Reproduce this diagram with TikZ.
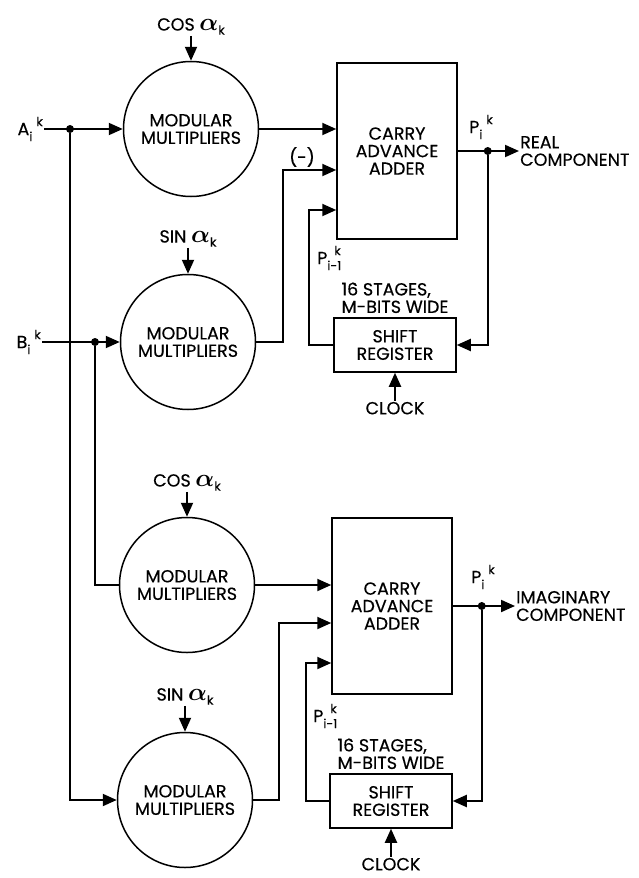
\documentclass[tikz,border=0pt]{standalone}
\usepackage{fontspec}
\setmainfont{Poppins}[FakeBold=0.4]
\usetikzlibrary{arrows.meta,positioning}
\newcommand{\blocksize}{\fontsize{17.5}{17.5}\selectfont}
\newcommand{\idxsize}{\fontsize{12.5}{12.5}\selectfont}
\newcommand{\sig}[3]{#1\rlap{\raisebox{-6pt}{\idxsize #2}}\hspace{7pt}\raisebox{9pt}{\idxsize #3}}
\newcommand{\alphak}{{\fontsize{24}{24}\selectfont\boldmath$\alpha$}\raisebox{-4pt}{\idxsize k}}
\tikzset{
  mult/.style={circle,draw,line width=1.5pt,minimum size=135pt,inner sep=0pt,align=center,font=\blocksize},
  adder/.style={rectangle,draw,line width=1.5pt,minimum width=120pt,minimum height=176pt,align=center,font=\blocksize},
  shiftreg/.style={rectangle,draw,line width=1.5pt,minimum width=122pt,minimum height=54pt,align=center,font=\blocksize},
  wire/.style={line width=2pt},
  arrow/.style={wire,-{Triangle[length=14pt,width=12pt]}},
  jdot/.style={circle,fill,inner sep=0pt,minimum size=8pt},
  siglabel/.style={font=\blocksize,inner sep=1pt,align=center}
}
\begin{document}
\begin{tikzpicture}[x=1pt,y=-1pt]
    \useasboundingbox (0,0) rectangle (638,878);
    % real component
    \node[mult] (m1) at (191,129) {MODULAR\\MULTIPLIERS};
    \node[mult] (m2) at (188,342) {MODULAR\\MULTIPLIERS};
    \node[adder] (add1) at (397,151) {CARRY\\ADVANCE\\ADDER};
    \node[shiftreg] (sr1) at (395,345) {SHIFT\\REGISTER};
    \node[siglabel,above=25pt of m1] (cos1) {COS \alphak};
    \node[siglabel,above=26pt of m2] (sin1) {SIN \alphak};
    \node[siglabel,below=28pt of sr1] (clk1) {CLOCK};
    \node[siglabel,align=left,above=3pt of sr1] (st1) {16 STAGES,\\M-BITS WIDE};
    \node[siglabel,anchor=east] (ain) at (44,129) {\sig{A}{i}{k}};
    \node[siglabel,anchor=east] (bin) at (42,342) {\sig{B}{i}{k}};
    \node[jdot] (ja) at (70,129) {};
    \node[jdot] (jb) at (95,342) {};
    \node[jdot] (jp1) at ([xshift=30pt]add1.east) {};
    \node[siglabel,align=left,anchor=west] (real) at (519,151) {REAL\\COMPONENT};
    \node[siglabel] (p1) at (481,127) {\sig{P}{i}{k}};
    \node[siglabel] (pm1) at (329,258) {\sig{P}{i-1}{k}};
    \node[siglabel] (neg) at (302,157) {(-)};
    \coordinate (b1) at (283,170);
    \coordinate (f1) at (309,210);
    \draw[arrow] (cos1) -- (m1);
    \draw[arrow] (sin1) -- (m2);
    \draw[arrow] (clk1) -- (sr1);
    \draw[arrow] (ain) -- (m1);
    \draw[arrow] (bin) -- (m2);
    \draw[arrow] (m1.east) -- (m1.east -| add1.west);
    \draw[arrow] (m2.east) -| (b1) -- (b1 -| add1.west);
    \draw[arrow] (sr1.west) -| (f1) -- (f1 -| add1.west);
    \draw[arrow] (add1.east) -- (real.west |- add1.east);
    \draw[arrow] (jp1) |- (sr1.east);
    % imaginary component
    \node[mult] (m3) at (187,585) {MODULAR\\MULTIPLIERS};
    \node[mult] (m4) at (185,800) {MODULAR\\MULTIPLIERS};
    \node[adder] (add2) at (392,606) {CARRY\\ADVANCE\\ADDER};
    \node[shiftreg] (sr2) at (391,801) {SHIFT\\REGISTER};
    \node[siglabel,above=25pt of m3] (cos2) {COS \alphak};
    \node[siglabel,above=26pt of m4] (sin2) {SIN \alphak};
    \node[siglabel,below=28pt of sr2] (clk2) {CLOCK};
    \node[siglabel,align=left,above=3pt of sr2] (st2) {16 STAGES,\\M-BITS WIDE};
    \node[jdot] (jp2) at ([xshift=29pt]add2.east) {};
    \node[siglabel,align=left,anchor=west] (imag) at (515,606) {IMAGINARY\\COMPONENT};
    \node[siglabel] (p2) at (483,577) {\sig{P}{i}{k}};
    \node[siglabel] (pm2) at (325,716) {\sig{P}{i-1}{k}};
    \coordinate (b2) at (279,623);
    \coordinate (f2) at (306,663);
    \draw[arrow] (cos2) -- (m3);
    \draw[arrow] (sin2) -- (m4);
    \draw[arrow] (clk2) -- (sr2);
    \draw[wire] (jb) |- (m3.west);
    \draw[arrow] (ja) |- (m4.west);
    \draw[arrow] (m3.east) -- (m3.east -| add2.west);
    \draw[arrow] (m4.east) -| (b2) -- (b2 -| add2.west);
    \draw[arrow] (sr2.west) -| (f2) -- (f2 -| add2.west);
    \draw[arrow] (add2.east) -- (imag.west |- add2.east);
    \draw[arrow] (jp2) |- (sr2.east);
\end{tikzpicture}
\end{document}
